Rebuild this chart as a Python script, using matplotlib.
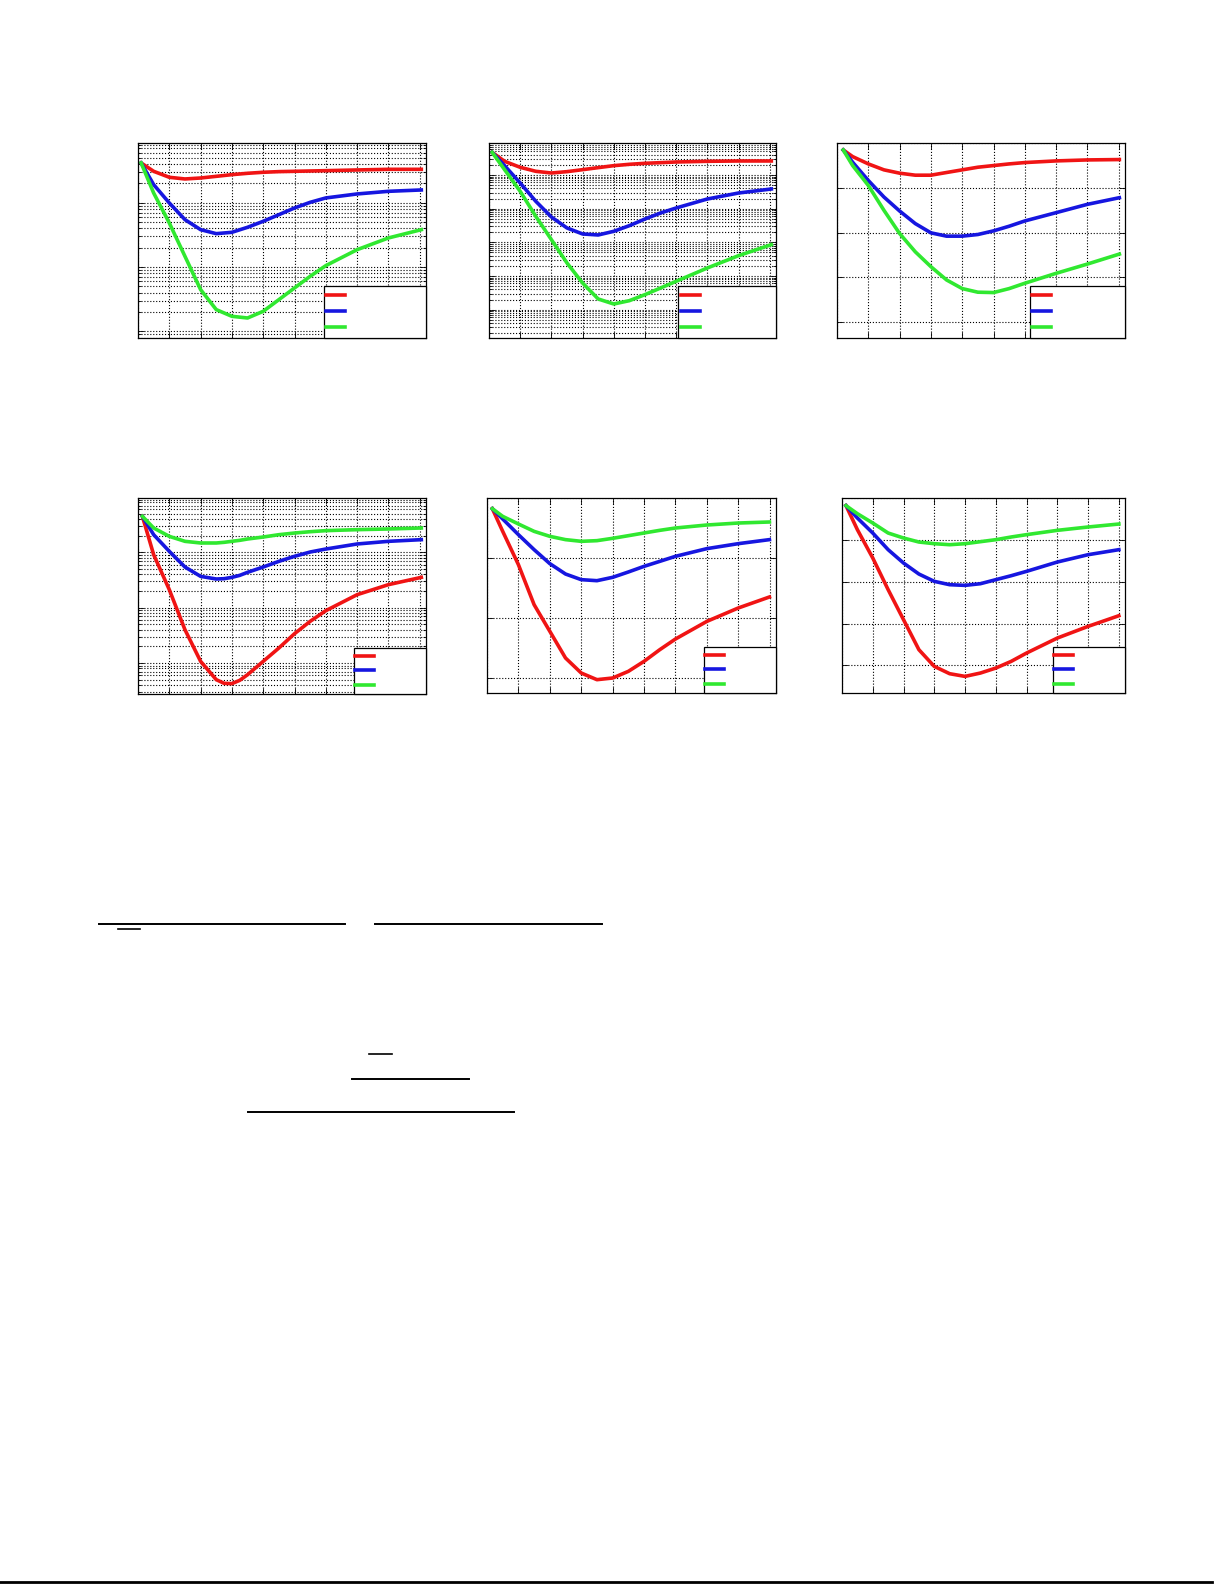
import numpy as np
import matplotlib
matplotlib.use('Agg')
import matplotlib.pyplot as plt
from matplotlib.lines import Line2D
from matplotlib.ticker import LogLocator, NullFormatter, FixedLocator

RED = '#f01414'
BLUE = '#1616e0'
GREEN = '#30e830'

# x samples (same 0..9 tick grid in every panel)
x1 = [0.1, 0.5, 1, 1.5, 2, 2.5, 3, 3.5, 4, 4.5, 5, 5.5, 6, 7, 8, 9.05]
x2 = [0.1, 0.5, 1, 1.5, 2, 2.5, 3, 3.5, 4, 4.5, 5, 5.5, 6, 7, 8, 9.05]
x3 = [0.2, 0.5, 1, 1.5, 2, 2.5, 3, 3.5, 4, 4.5, 5, 5.5, 6, 7, 8, 9.02]
x4 = [0.14, 0.5, 1, 1.5, 2, 2.5, 2.75, 3, 3.25, 3.5, 4, 4.5, 5, 5.5, 6, 7, 8, 9.05]
x5 = [0.17, 0.5, 1, 1.5, 2, 2.5, 3, 3.5, 4, 4.5, 5, 5.5, 6, 7, 8, 8.99]
x6 = [0.13, 0.5, 1, 1.5, 2, 2.5, 3, 3.5, 4, 4.5, 5, 5.5, 6, 7, 8, 9.0]

# panels 1, 2, 4: log10 of the plotted value (log y axis)
p1_red = [-1.383, -1.513, -1.606, -1.632, -1.617, -1.591, -1.565, -1.544, -1.528, -1.518, -1.513, -1.508, -1.503, -1.492, -1.482, -1.482]
p1_blue = [-1.383, -1.720, -2.005, -2.264, -2.420, -2.482, -2.461, -2.383, -2.290, -2.187, -2.083, -1.995, -1.927, -1.865, -1.824, -1.803]
p1_green = [-1.383, -1.850, -2.316, -2.834, -3.352, -3.663, -3.767, -3.793, -3.689, -3.508, -3.326, -3.145, -2.979, -2.731, -2.549, -2.420]

p2_red = [-0.327, -0.594, -0.772, -0.891, -0.941, -0.901, -0.842, -0.782, -0.723, -0.683, -0.653, -0.634, -0.614, -0.594, -0.584, -0.584]
p2_blue = [-0.327, -0.723, -1.238, -1.782, -2.248, -2.574, -2.752, -2.782, -2.673, -2.505, -2.307, -2.129, -1.980, -1.713, -1.535, -1.416]
p2_green = [-0.327, -0.842, -1.485, -2.228, -2.921, -3.614, -4.208, -4.683, -4.832, -4.733, -4.554, -4.356, -4.158, -3.762, -3.396, -3.069]

p4_red = [-1.349, -2.042, -2.675, -3.398, -3.970, -4.301, -4.367, -4.373, -4.313, -4.211, -3.970, -3.729, -3.470, -3.247, -3.054, -2.765, -2.584, -2.452]
p4_blue = [-1.349, -1.681, -1.982, -2.265, -2.434, -2.482, -2.476, -2.452, -2.416, -2.361, -2.265, -2.163, -2.072, -1.994, -1.940, -1.849, -1.801, -1.771]
p4_green = [-1.349, -1.560, -1.711, -1.801, -1.831, -1.831, -1.819, -1.801, -1.783, -1.759, -1.723, -1.681, -1.651, -1.627, -1.608, -1.590, -1.578, -1.560]

# panels 3, 5, 6: linear y axis
p3_red = [-0.156, -0.304, -0.467, -0.600, -0.674, -0.719, -0.719, -0.659, -0.600, -0.541, -0.504, -0.467, -0.437, -0.400, -0.378, -0.370]
p3_blue = [-0.156, -0.430, -0.837, -1.207, -1.519, -1.800, -2.007, -2.081, -2.081, -2.044, -1.963, -1.859, -1.741, -1.556, -1.370, -1.222]
p3_green = [-0.156, -0.504, -0.948, -1.504, -2.022, -2.430, -2.763, -3.059, -3.252, -3.333, -3.341, -3.252, -3.133, -2.911, -2.704, -2.481]

p5_red = [-0.178, -0.556, -1.111, -1.778, -2.222, -2.667, -2.917, -3.028, -3.000, -2.889, -2.722, -2.528, -2.350, -2.056, -1.833, -1.650]
p5_blue = [-0.178, -0.350, -0.611, -0.861, -1.094, -1.267, -1.361, -1.378, -1.322, -1.233, -1.139, -1.056, -0.972, -0.844, -0.761, -0.694]
p5_green = [-0.178, -0.306, -0.433, -0.556, -0.639, -0.694, -0.722, -0.711, -0.672, -0.628, -0.583, -0.539, -0.500, -0.450, -0.417, -0.400]

p6_red = [-0.183, -0.757, -1.434, -2.191, -2.908, -3.625, -4.024, -4.199, -4.263, -4.183, -4.064, -3.904, -3.705, -3.347, -3.068, -2.813]
p6_blue = [-0.183, -0.478, -0.837, -1.235, -1.554, -1.817, -1.992, -2.072, -2.088, -2.048, -1.952, -1.857, -1.753, -1.530, -1.355, -1.235]
p6_green = [-0.183, -0.375, -0.598, -0.837, -0.956, -1.052, -1.092, -1.116, -1.092, -1.044, -0.996, -0.932, -0.876, -0.773, -0.693, -0.622]

x_ticks = list(range(10))
y3_ticks = [-4, -3, -2, -1, 0]
y5_ticks = [-3, -2, -1, 0]
y6_ticks = [-4, -3, -2, -1, 0]


def style_axes(ax, log):
    for sp in ax.spines.values():
        sp.set_linewidth(0.9)
    ax.set_xlim(0, 9.2)
    ax.xaxis.set_major_locator(FixedLocator(x_ticks))
    ax.tick_params(which='both', direction='in', top=True, right=True,
                   labelbottom=False, labelleft=False, width=0.6)
    ax.tick_params(which='major', length=4)
    ax.tick_params(which='minor', length=2)
    ax.grid(True, which='major', linestyle=':', color='k', linewidth=0.8)
    if log:
        ax.yaxis.set_major_locator(LogLocator(base=10, numticks=20))
        ax.yaxis.set_minor_locator(LogLocator(base=10, subs=np.arange(2, 10), numticks=20))
        ax.yaxis.set_major_formatter(NullFormatter())
        ax.yaxis.set_minor_formatter(NullFormatter())
        ax.grid(True, which='minor', axis='y', linestyle=':', color='k', linewidth=0.8)


def add_legend(ax, lines, small, pad):
    if small:
        kw = dict(fontsize=9, handlelength=1.5, handletextpad=pad,
                  borderpad=0.15, labelspacing=0.12)
    else:
        kw = dict(fontsize=10, handlelength=1.37, handletextpad=pad,
                  borderpad=0.2, labelspacing=0.15)
    leg = ax.legend(lines, ['', '', ''], loc='lower right', borderaxespad=0,
                    fancybox=False, framealpha=1, edgecolor='k', **kw)
    leg.get_frame().set_linewidth(0.9)


def draw_panel(rect, x, reds, blues, greens, log, ylim, yticks=None, small=False, pad=5.6):
    ax = fig.add_axes(rect)
    if log:
        ax.set_yscale('log')
        reds = 10 ** np.array(reds)
        blues = 10 ** np.array(blues)
        greens = 10 ** np.array(greens)
    lr, = ax.plot(x, reds, color=RED, lw=2.6, solid_joinstyle='round')
    lb, = ax.plot(x, blues, color=BLUE, lw=2.6, solid_joinstyle='round')
    lg, = ax.plot(x, greens, color=GREEN, lw=2.6, solid_joinstyle='round')
    ax.set_ylim(*ylim)
    style_axes(ax, log)
    if yticks is not None:
        ax.yaxis.set_major_locator(FixedLocator(yticks))
    add_legend(ax, [lr, lb, lg], small, pad)
    return ax


fig = plt.figure(figsize=(12.25, 15.85), dpi=100)

W, H = 1225.0, 1585.0


def rect(l, t, r, b):
    return [l / W, 1 - b / H, (r - l) / W, (b - t) / H]


draw_panel(rect(138, 143, 426, 338), x1, p1_red, p1_blue, p1_green, True,
           (10 ** -4.104, 10 ** -1.073), pad=5.6)
draw_panel(rect(489, 143, 776, 338), x2, p2_red, p2_blue, p2_green, True,
           (10 ** -5.842, 10 ** -0.05), pad=5.3)
draw_panel(rect(837, 143, 1125, 338), x3, p3_red, p3_blue, p3_green, False,
           (-4.356, 0), y3_ticks, pad=5.1)
draw_panel(rect(138, 498, 426, 694), x4, p4_red, p4_blue, p4_green, True,
           (10 ** -4.560, 10 ** -1.018), small=True, pad=4.0)
draw_panel(rect(487, 498, 776, 693), x5, p5_red, p5_blue, p5_green, False,
           (-3.25, 0), y5_ticks, small=True, pad=4.0)
draw_panel(rect(842, 498, 1125, 693), x6, p6_red, p6_blue, p6_green, False,
           (-4.66, 0), y6_ticks, small=True, pad=4.0)

# fraction bars of the equations below the figure and the page rule
page_rules = [
    (99, 345, 924, 1.4), (118, 140, 929, 1.2), (375, 602, 924, 1.4),
    (369, 392, 1054, 1.2), (352, 469, 1079, 1.4), (248, 514, 1112, 1.4),
    (0, 1212, 1582, 2.0),
]
for x0, x1_, y, lw in page_rules:
    fig.add_artist(Line2D([x0 / W, x1_ / W], [1 - y / H, 1 - y / H],
                          color='k', lw=lw, transform=fig.transFigure))

fig.savefig('out.png', dpi=100)
